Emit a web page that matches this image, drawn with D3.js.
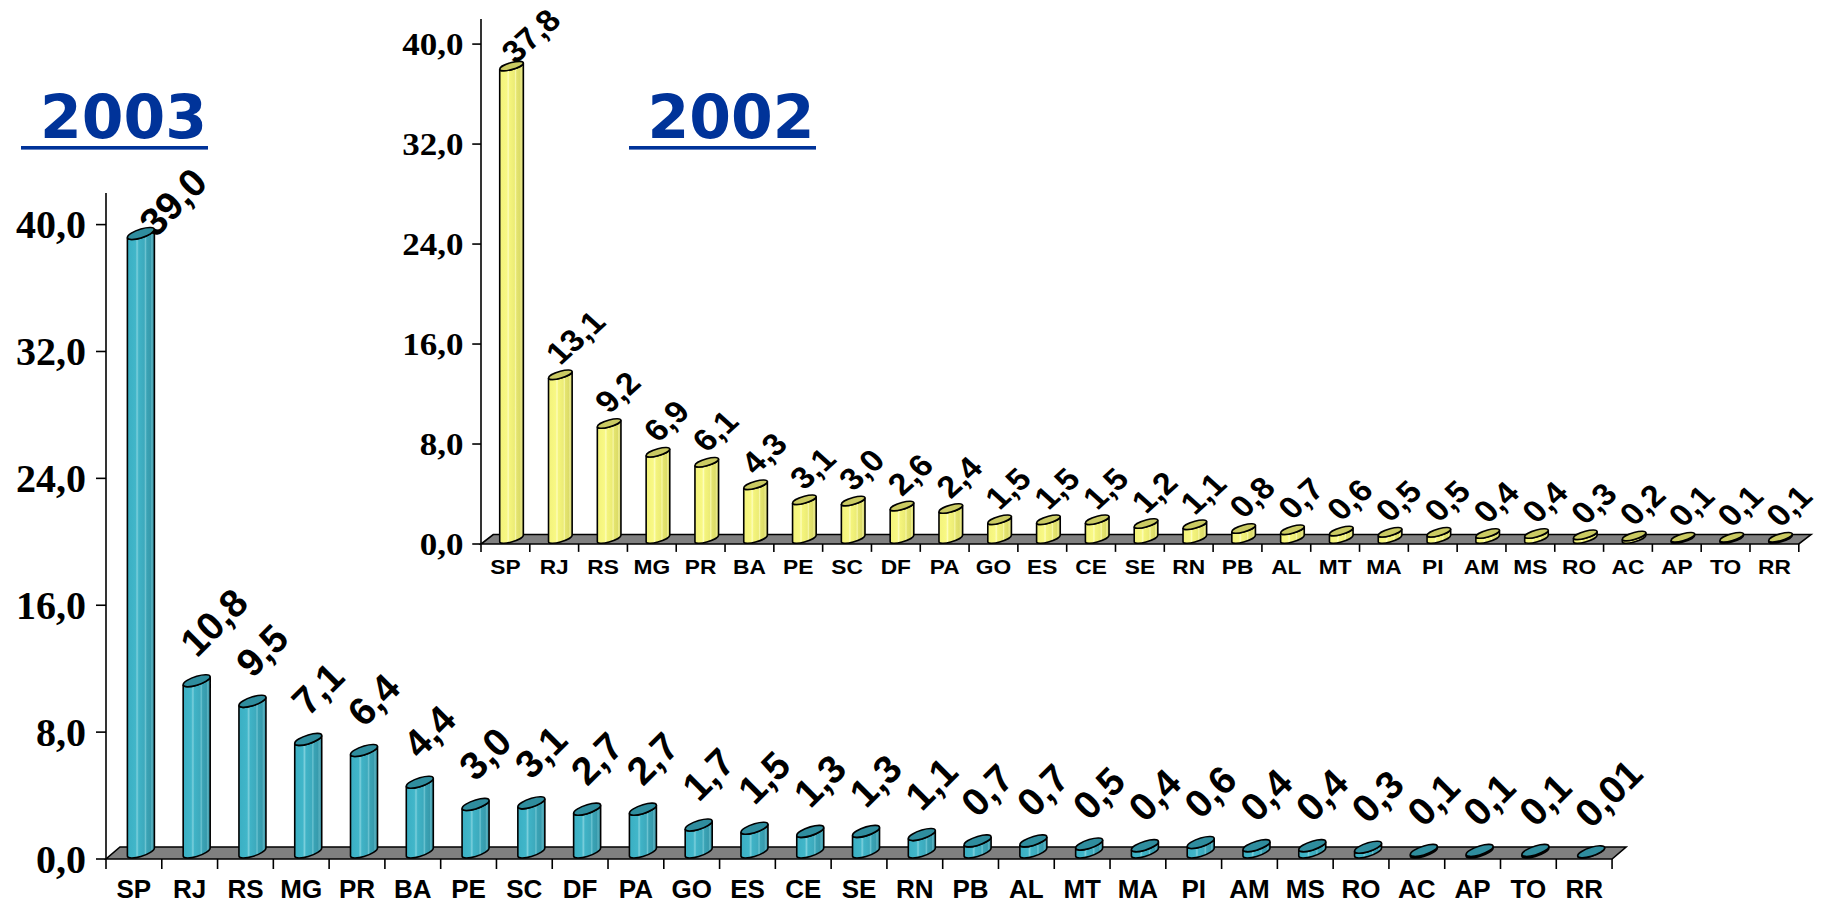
<!DOCTYPE html>
<html>
<head>
<meta charset="utf-8">
<script src="https://cdn.jsdelivr.net/npm/d3@7"></script>
<style>
  html, body { margin: 0; background: #fff; }
  svg { display: block; }
</style>
</head>
<body>
<svg id="chart" width="1824" height="904"></svg>
<script>
// Brazilian states, in ranking order
const states = ["SP","RJ","RS","MG","PR","BA","PE","SC","DF","PA","GO","ES","CE","SE",
                "RN","PB","AL","MT","MA","PI","AM","MS","RO","AC","AP","TO","RR"];

// share per state (%)
const values2003 = [39.0,10.8,9.5,7.1,6.4,4.4,3.0,3.1,2.7,2.7,1.7,1.5,1.3,1.3,
                    1.1,0.7,0.7,0.5,0.4,0.6,0.4,0.4,0.3,0.1,0.1,0.1,0.01];
const values2002 = [37.8,13.1,9.2,6.9,6.1,4.3,3.1,3.0,2.6,2.4,1.5,1.5,1.5,1.2,
                    1.1,0.8,0.7,0.6,0.5,0.5,0.4,0.4,0.3,0.2,0.1,0.1,0.1];

const years = ["2003", "2002"];
const yTicks = [0, 8, 16, 24, 32, 40];
const yAxisTop = 42;

const fmtValue = v => (v < 0.05 ? v.toFixed(2) : v.toFixed(1)).replace(".", ",");
const fmtTick = v => v.toFixed(1).replace(".", ",");

const svg = d3.select("#chart");
const defs = svg.append("defs");

// cylinder shading (vertical stripes of a lit column)
function gradient(id, stops) {
  const g = defs.append("linearGradient").attr("id", id)
    .attr("x1", 0).attr("x2", 1).attr("y1", 0).attr("y2", 0);
  stops.forEach(([o, c]) => g.append("stop").attr("offset", o).attr("stop-color", c));
}
gradient("tealBody", [
  [0, "#3aafc3"], [0.30, "#41b6c9"], [0.36, "#7ccfdc"], [0.42, "#40b3c6"],
  [0.62, "#3daabd"], [0.67, "#6cc3d1"], [0.72, "#3aa3b5"], [0.86, "#379aac"],
  [0.90, "#58b2c1"], [1, "#318e9f"]
]);
gradient("yellowBody", [
  [0, "#f3f37a"], [0.30, "#f8f884"], [0.36, "#fdfdbb"], [0.42, "#f4f47c"],
  [0.62, "#ecec76"], [0.67, "#f7f7a8"], [0.72, "#e4e46e"], [0.86, "#dcdc68"],
  [0.90, "#ecec90"], [1, "#cfcf5c"]
]);

// shared layout in the frame of the 2003 panel; the 2002 panel reuses it, scaled
const band = 55.78, unit = 15.86;
const plotW = band * states.length;
const x = d3.scaleBand().domain(states).range([0, plotW]);
const y = d3.scaleLinear().domain([0, 40]).range([0, -40 * unit]);

const floorDx = 14, floorDy = 12;
const barW = 27, rx = barW / 2, ry = 4.5;
const shearDeg = -16.5;
const barShift = 7, lift = 7;

function drawPanel(g, values, opt) {
  const ns = el => el.attr("vector-effect", "non-scaling-stroke");

  // floor
  ns(g.append("path")
    .attr("d", `M0,0 L${plotW},0 L${plotW + floorDx},${-floorDy} L${floorDx},${-floorDy} Z`)
    .attr("fill", "#808080").attr("stroke", "#000").attr("stroke-width", 1.6));

  // value axis
  ns(g.append("line").attr("x1", 0).attr("x2", 0).attr("y1", 0).attr("y2", y(yAxisTop))
    .attr("stroke", "#000").attr("stroke-width", 1.6));
  const yt = g.append("g");
  yTicks.forEach(t => {
    ns(yt.append("line").attr("x1", -10).attr("x2", 0).attr("y1", y(t)).attr("y2", y(t))
      .attr("stroke", "#000").attr("stroke-width", 1.6));
    yt.append("text").attr("x", -20).attr("y", y(t)).attr("dy", "0.34em")
      .attr("text-anchor", "end")
      .attr("font-family", "'Liberation Serif', 'Times New Roman', serif")
      .attr("font-weight", "bold").attr("font-size", 40)
      .text(fmtTick(t));
  });

  // category ticks and labels
  const edges = states.map(s => x(s)).concat([plotW]);
  edges.forEach(e => ns(g.append("line").attr("x1", e).attr("x2", e).attr("y1", 0).attr("y2", 10)
    .attr("stroke", "#000").attr("stroke-width", 1.6)));
  g.append("g").selectAll("text").data(states).join("text")
    .attr("x", s => x(s) + x.bandwidth() / 2).attr("y", 38.5)
    .attr("text-anchor", "middle")
    .attr("font-family", "'Liberation Sans', Arial, sans-serif")
    .attr("font-weight", "bold").attr("font-size", 26)
    .text(s => s);

  // columns
  const bars = g.append("g").selectAll("g").data(states).join("g")
    .attr("transform", s => `translate(${x(s) + x.bandwidth() / 2 + barShift},${-lift}) skewY(${shearDeg})`);
  bars.each(function (s, i) {
    const h = -y(values[i]);
    const b = d3.select(this);
    ns(b.append("path")
      .attr("d", `M${-rx},${-h} L${-rx},0 A${rx},${ry} 0 0 0 ${rx},0 L${rx},${-h} A${rx},${ry} 0 0 1 ${-rx},${-h} Z`)
      .attr("fill", `url(#${opt.body})`).attr("stroke", "#000").attr("stroke-width", 1.6));
    ns(b.append("ellipse").attr("cx", 0).attr("cy", -h).attr("rx", rx).attr("ry", ry)
      .attr("fill", opt.cap).attr("stroke", "#000").attr("stroke-width", 1.6));
  });

  // rotated value labels
  const fs = 39, capH = 0.716 * fs;
  const lbl = g.append("g");
  states.forEach((s, i) => {
    const cx = x(s) + x.bandwidth() / 2 + barShift;
    let ax = cx, ay = y(values[i]) - lift - opt.labelGap;
    const t = lbl.append("text")
      .attr("font-family", "'Liberation Sans', Arial, sans-serif")
      .attr("font-weight", "bold").attr("font-size", fs)
      .text(fmtValue(values[i]));
    const w = t.node().getComputedTextLength();
    const top = ay - (w + capH) / Math.SQRT2;
    if (top < opt.labelTop) {
      const d = opt.labelTop - top;
      ay += d; ax += d * 0.55;
    }
    t.attr("transform", `translate(${ax},${ay}) rotate(-45)`);
  });
}

// 2003 panel
drawPanel(svg.append("g").attr("transform", "translate(106,859)"), values2003,
  { body: "tealBody", cap: "#2f8d9e", labelTop: -694, labelGap: 22 });

// 2002 panel
drawPanel(svg.append("g").attr("transform", "translate(481,544) scale(0.875,0.788)"), values2002,
  { body: "yellowBody", cap: "#caca62", labelTop: -682, labelGap: 11 });

// panel titles
function title(text, cx, x0, x1) {
  svg.append("text").attr("x", cx).attr("y", 138).attr("text-anchor", "middle")
    .attr("font-family", "'DejaVu Sans', Verdana, sans-serif")
    .attr("font-weight", "bold").attr("font-size", 60).attr("fill", "#003399")
    .text(text);
  svg.append("rect").attr("x", x0).attr("y", 146).attr("width", x1 - x0).attr("height", 3.6)
    .attr("fill", "#003399");
}
title(years[0], 123.5, 21, 208);
title(years[1], 731, 629, 816);
</script>
</body>
</html>
